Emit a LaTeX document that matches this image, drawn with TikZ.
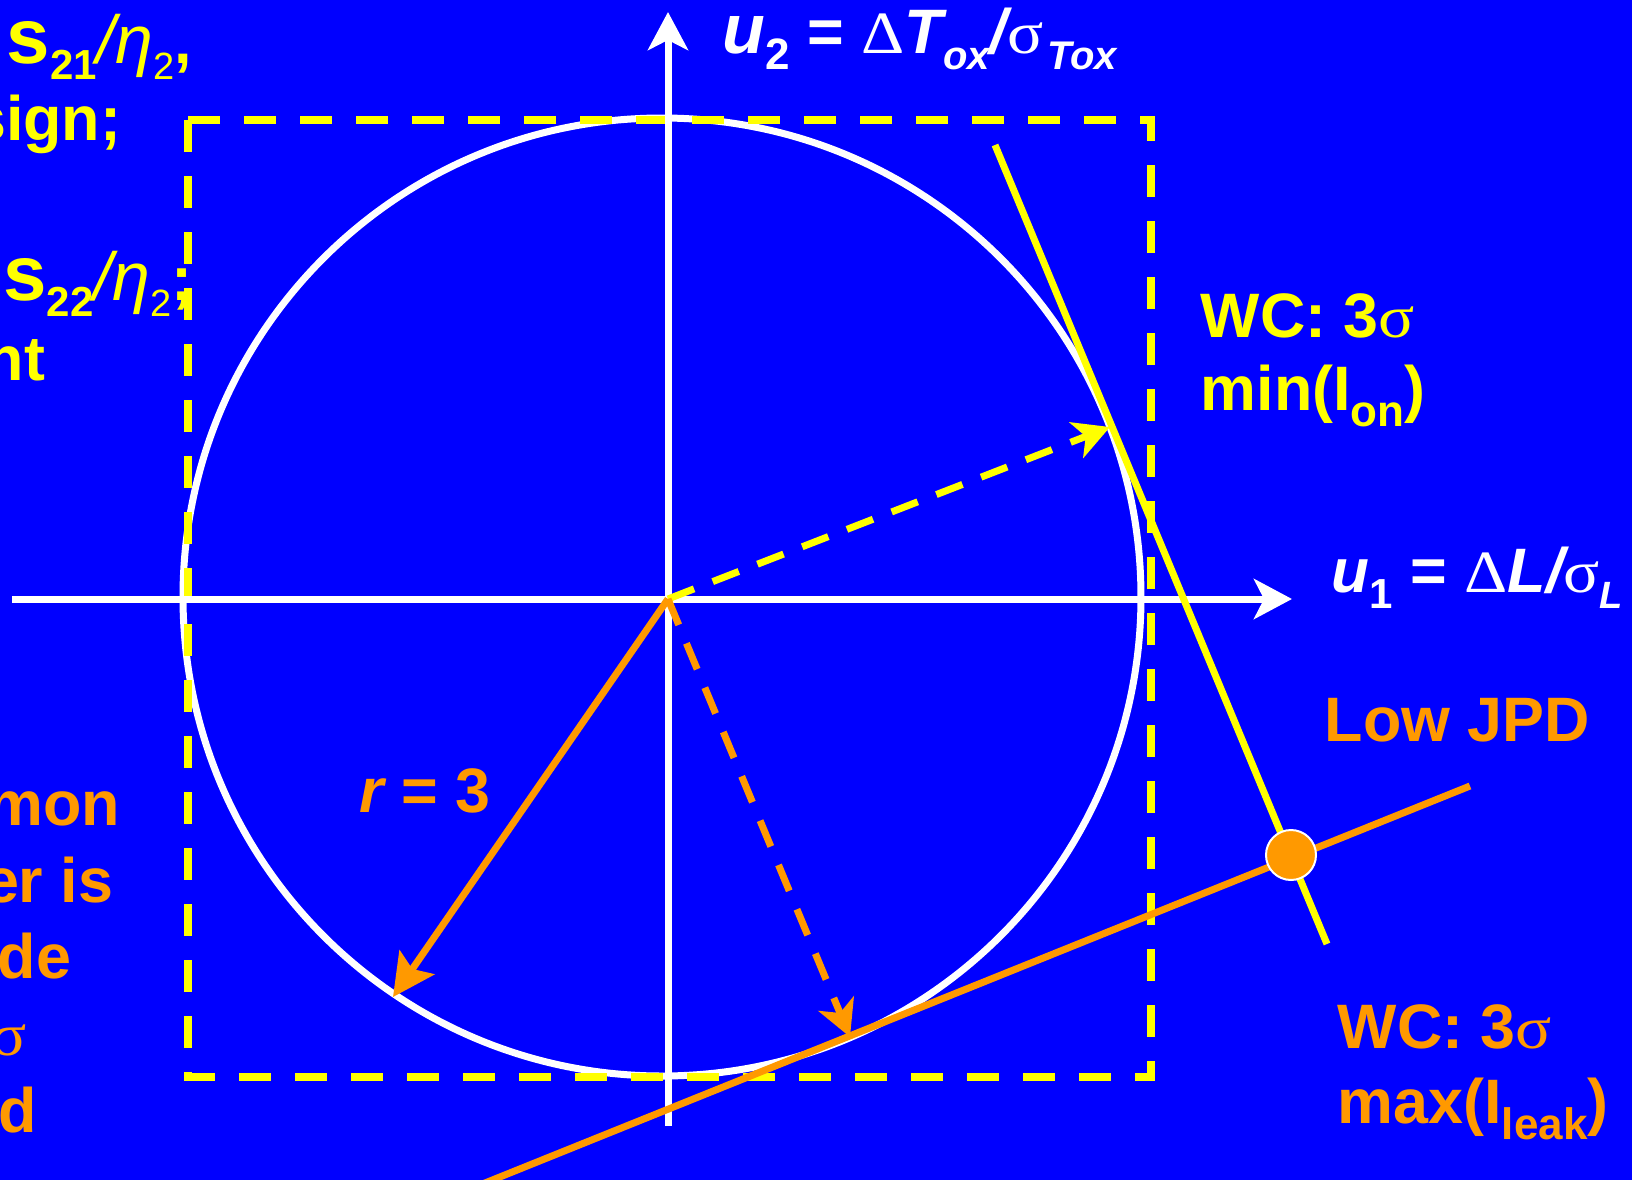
\documentclass[tikz,border=0pt]{standalone}
\usepackage{fontspec}
\setmainfont{Liberation Sans}
\newfontfamily\symf{Liberation Serif}
\usetikzlibrary{arrows.meta}
\definecolor{bg}{HTML}{0000FF}
\definecolor{org}{HTML}{FF9900}
\definecolor{ylw}{HTML}{FFFF00}
\newcommand\fs[1]{\fontsize{#1}{#1}\selectfont}
\newcommand\sbs[2][10]{\raisebox{-4.2pt}{\fs{#1}#2}}
\newcommand\gk[2][15]{{\symf\mdseries\upshape\fs{#1}\scalebox{1.12}[1]{#2}}}
\begin{document}
\begin{tikzpicture}[x=0.25pt,y=-0.25pt,
  lbl/.style={inner sep=0, font=\bfseries\fs{15.7}},
  axis/.style={white, line width=1.75pt, -{Stealth[length=9.5pt,width=10pt,inset=2.5pt]}},
  yline/.style={ylw, line width=1.75pt},
  oline/.style={org, line width=1.75pt},
  dsh/.style={dash pattern=on 7pt off 5pt}]
\useasboundingbox (0,0) rectangle (1632,1180);
\fill[bg] (0,0) rectangle (1632,1180);
\clip (0,0) rectangle (1632,1180);

% texts cut off at the left edge, as in the reference
\node[lbl, text=ylw, anchor=base east] (t1) at (193,63) {{\fs{19.5}s}\sbs[10.5]{21}{\mdseries\itshape\fs{17}/η}\sbs[9.5]{\mdseries 2},};
\node[lbl, text=ylw, anchor=base east] (t2) at (122,140) {sign;};
\node[lbl, text=ylw, anchor=base east] (t3) at (193,300) {{\fs{19.5}s}\sbs[10.5]{22}{\mdseries\itshape\fs{17}/η}\sbs[9.5]{\mdseries 2};};
\node[lbl, text=ylw, anchor=base east] (t4) at (46,380) {nt};
\node[lbl, text=org, anchor=base east] (o1) at (121,825) {mon};
\node[lbl, text=org, anchor=base east] (o2) at (114,902) {er is};
\node[lbl, text=org, anchor=base east] (o3) at (72,978) {de};
\node[lbl, text=org, anchor=base east] (o4) at (28,1055) {\gk{σ}};
\node[lbl, text=org, anchor=base east] (o5) at (38,1132) {d};

% coordinates
\coordinate (O) at (668,599);
\coordinate (C) at (662,597);
\coordinate (hl) at (12,599);
\coordinate (hr) at (1292,599);
\coordinate (vb) at (668,1126);
\coordinate (vt) at (668,12);
\coordinate (ya) at (995,145);
\coordinate (yb) at (1327,944);
\coordinate (oa) at (480,1185);
\coordinate (ob) at (1470,786);
\coordinate (py) at (1110,427);
\coordinate (po) at (850,1037);
\coordinate (pr) at (393,997);

% circle and box
\draw[white, line width=1.75pt] (C) circle[radius=479];
\draw[ylw, line width=2.15pt, dash pattern=on 8pt off 6pt] (188,120) rectangle (1151,1077);

% axes
\draw[axis] (hl) -- (hr);
\draw[axis] (vb) -- (vt);

% worst-case lines
\draw[yline] (ya) -- (yb);
\draw[oline] (oa) -- (ob);

% radius arrows
\draw[yline, dsh, -{Stealth[length=9pt,width=9.5pt,inset=2.5pt]}] (O) -- (py);
\draw[oline, dsh, -{Stealth[length=9pt,width=9.5pt,inset=2.5pt]}] (O) -- (po);
\draw[oline, -{Stealth[length=10.5pt,width=10.5pt,inset=2pt]}] (O) -- (pr);

% low JPD point
\node[circle, fill=org, draw=white, line width=0.5pt, minimum size=12.5pt, inner sep=0] (dot) at (1291,855) {};

% labels
\node[lbl, text=white, anchor=base west] (u2) at (722,53)
  {{\fs{17.5}\itshape u}\sbs[11]{2} = \gk{Δ}{\itshape T\sbs{ox}/}\gk{σ}\kern1pt\sbs{\itshape Tox}};
\node[lbl, text=white, anchor=base west] (u1) at (1331,592)
  {{\fs{15.5}\itshape u}\sbs[10.5]{1} = \gk{Δ}{\itshape L/}\gk{σ}\sbs[9.5]{\itshape L}};
\node[lbl, text=ylw, anchor=base west] (wc1) at (1200,337) {WC: 3\gk{σ}};
\node[lbl, text=ylw, anchor=base west] (mn) at (1200,410) {min(I\sbs[11]{on})};
\node[lbl, text=org, anchor=base west] (jpd) at (1324,741) {Low JPD};
\node[lbl, text=org, anchor=base west] (wc2) at (1337,1048) {WC: 3\gk{σ}};
\node[lbl, text=org, anchor=base west] (mx) at (1337,1123) {max(I\sbs[11]{leak})};
\node[lbl, text=org, anchor=base west] (r3) at (359,812) {{\itshape r} = 3};
\end{tikzpicture}
\end{document}
